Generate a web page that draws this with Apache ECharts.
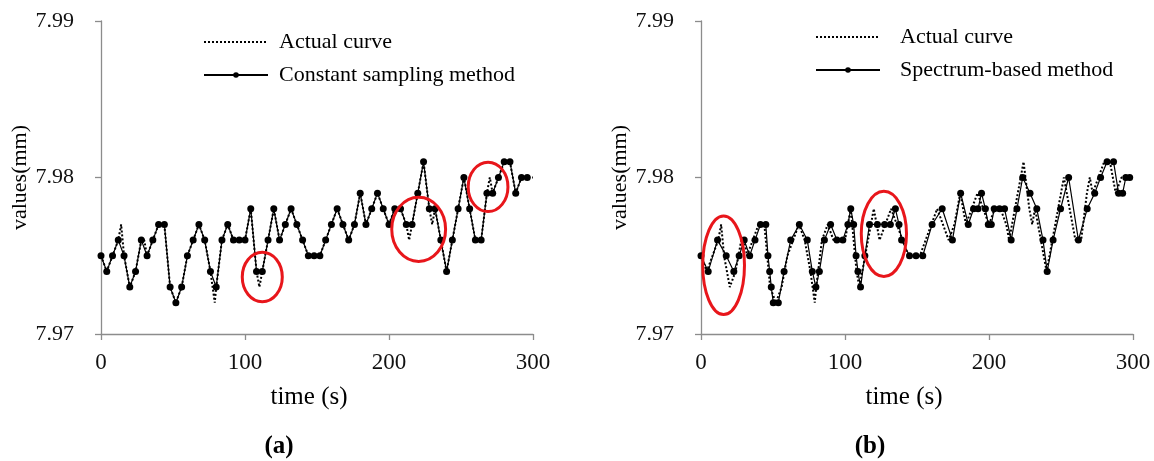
<!DOCTYPE html>
<html>
<head>
<meta charset="utf-8">
<script src="https://cdn.jsdelivr.net/npm/echarts@6/dist/echarts.min.js"></script>
<style>
html,body{margin:0;padding:0;background:#fff;}
#c{width:1154px;height:461px;}
</style>
</head>
<body>
<div id="c"></div>
<script>
// ---- Data ----
const yTicks = [7.97, 7.98, 7.99];
const xTicks = [0, 100, 200, 300];

// Actual curve (shared by both panels)
const actualTime = [0,4,8,12,14,16,20,24,28,30,32,36,40,44,48,52,56,60,64,68,72,76,79,80,84,88,92,96,100,104,108,110,112,116,120,124,128,132,136,140,144,148,152,156,160,164,168,172,176,180,184,188,192,196,200,204,208,212,214,216,220,224,228,230,232,236,240,244,248,252,256,260,264,268,270,272,276,280,284,288,292,296,300];
const actualVal = [7.975,7.974,7.975,7.976,7.977,7.975,7.973,7.974,7.976,7.976,7.975,7.976,7.977,7.977,7.973,7.972,7.973,7.975,7.976,7.977,7.976,7.974,7.972,7.973,7.976,7.977,7.976,7.976,7.976,7.978,7.974,7.973,7.974,7.976,7.978,7.976,7.977,7.978,7.977,7.976,7.975,7.975,7.975,7.976,7.977,7.978,7.977,7.976,7.977,7.979,7.977,7.978,7.979,7.978,7.977,7.978,7.978,7.977,7.976,7.977,7.979,7.981,7.978,7.977,7.978,7.976,7.974,7.976,7.978,7.980,7.978,7.976,7.976,7.979,7.980,7.979,7.980,7.981,7.981,7.979,7.980,7.980,7.980];

// Panel (a): constant sampling method
const constTime = [0,4,8,12,16,20,24,28,32,36,40,44,48,52,56,60,64,68,72,76,80,84,88,92,96,100,104,108,112,116,120,124,128,132,136,140,144,148,152,156,160,164,168,172,176,180,184,188,192,196,200,204,208,212,216,220,224,228,232,236,240,244,248,252,256,260,264,268,272,276,280,284,288,292,296];
const constVal = [7.975,7.974,7.975,7.976,7.975,7.973,7.974,7.976,7.975,7.976,
                  7.977,7.977,7.973,7.972,7.973,7.975,7.976,7.977,7.976,7.974,
                  7.973,7.976,7.977,7.976,7.976,7.976,7.978,7.974,7.974,7.976,
                  7.978,7.976,7.977,7.978,7.977,7.976,7.975,7.975,7.975,7.976,
                  7.977,7.978,7.977,7.976,7.977,7.979,7.977,7.978,7.979,7.978,
                  7.977,7.978,7.978,7.977,7.977,7.979,7.981,7.978,7.978,7.976,
                  7.974,7.976,7.978,7.980,7.978,7.976,7.976,7.979,7.979,7.980,
                  7.981,7.981,7.979,7.980,7.980];

// Panel (b): spectrum-based method
const specTime = [0,5,11.5,17.5,22.8,26.5,30,33.8,37.5,41.3,45,46.5,47.7,48.8,50.2,53.7,57.7,62.3,68.3,73.8,77.3,79.8,82.2,85.7,90,94.4,98.5,102,104,106,107.7,109,110.8,113.8,117,122.5,127.5,131.5,135,137.5,139.3,144.8,149.3,154,160.5,167.5,174.6,180.3,185.6,189.3,192.4,194.8,197.5,199.5,201.6,203.6,207.3,210.8,215.4,219.4,223.4,228.5,233.2,237.5,240.4,244.5,249.7,255.3,262.1,268.2,273.4,277.5,282,286.5,290,292.8,295,297.7];
const specVal = [7.975,7.974,7.976,7.975,7.974,7.975,7.976,7.975,7.976,7.977,
                 7.977,7.975,7.974,7.973,7.972,7.972,7.974,7.976,7.977,7.976,
                 7.974,7.973,7.974,7.976,7.977,7.976,7.976,7.977,7.978,7.977,
                 7.975,7.974,7.973,7.975,7.977,7.977,7.977,7.977,7.978,7.977,
                 7.976,7.975,7.975,7.975,7.977,7.978,7.976,7.979,7.977,7.978,
                 7.978,7.979,7.978,7.977,7.977,7.978,7.978,7.978,7.976,7.978,
                 7.980,7.979,7.978,7.976,7.974,7.976,7.978,7.980,7.976,7.978,
                 7.979,7.980,7.981,7.981,7.979,7.979,7.980,7.980];

// Red highlight ellipses (data units): panel, centre time, centre value, half-width (s), half-height (mm)
const ellipsePanel = [0, 0, 0, 1, 1];
const ellipseT  = [112, 220.6, 268.8, 15.7, 127];
const ellipseV  = [7.97364, 7.97669, 7.9794, 7.97439, 7.9764];
const ellipseRT = [13.9, 18.7, 13.8, 14.5, 15.7];
const ellipseRV = [0.00158, 0.00205, 0.00158, 0.00315, 0.00272];

const captions = ['a', 'b'];
const methodNames = ['Constant sampling method', 'Spectrum-based method'];

// ---- Chart ----
const FONT = "'Liberation Serif', 'Times New Roman', serif";
const pairs = (ts, vs) => ts.map((t, i) => [t, vs[i]]);
const chart = echarts.init(document.getElementById('c'), null, {renderer: 'canvas'});

const gridLefts = [101, 701];
const grids = gridLefts.map(l => ({left: l, top: 21, width: 432, height: 313, containLabel: false}));

const xAxes = [0, 1].map(i => ({
  type: 'value', gridIndex: i, min: xTicks[0], max: xTicks[xTicks.length - 1], interval: 100,
  name: 'time (s)', nameLocation: 'middle', nameGap: 51,
  nameTextStyle: {fontFamily: FONT, fontSize: 25, color: '#000', padding: [0, i === 0 ? 16 : 26, 0, 0]},
  axisLine: {show: true, lineStyle: {color: '#8c8c8c', width: 1.3}},
  axisTick: {show: true, inside: false, length: 6, lineStyle: {color: '#8c8c8c', width: 1.3}},
  axisLabel: {fontFamily: FONT, fontSize: 23, color: '#111', margin: 17},
  splitLine: {show: false}
}));

const yAxes = [0, 1].map(i => ({
  type: 'value', gridIndex: i, min: yTicks[0], max: yTicks[yTicks.length - 1], interval: 0.01,
  name: 'values(mm)', nameLocation: 'middle', nameGap: 64, nameRotate: 90,
  nameTextStyle: {fontFamily: FONT, fontSize: 22, color: '#000'},
  axisLine: {show: true, lineStyle: {color: '#8c8c8c', width: 1.3}},
  axisTick: {show: true, inside: false, length: 6, lineStyle: {color: '#8c8c8c', width: 1.3}},
  axisLabel: {fontFamily: FONT, fontSize: 22, color: '#111', margin: 27,
              formatter: v => v.toFixed(2)},
  splitLine: {show: false}
}));

const actualSeries = i => ({
  name: 'Actual curve', type: 'line', xAxisIndex: i, yAxisIndex: i,
  data: pairs(actualTime, actualVal), symbol: 'none', showSymbol: false,
  lineStyle: {color: '#000', width: 2, type: [2, 2]}, itemStyle: {color: '#000'},
  z: 3, silent: true
});
const methodSeries = (i, ts, vs) => ({
  name: methodNames[i], type: 'line', xAxisIndex: i, yAxisIndex: i,
  data: pairs(ts, vs), symbol: 'circle', symbolSize: 7, showSymbol: true,
  lineStyle: {color: '#000', width: 1.2}, itemStyle: {color: '#000'},
  z: 2, silent: true
});

const legends = [
  {left: 203, top: 31, pad: 6},
  {left: 815, top: 26, pad: 15}
].map((p, i) => ({
  left: p.left, top: p.top, orient: 'vertical', itemWidth: 64, itemHeight: 7, itemGap: 11,
  padding: 0,
  data: [{name: 'Actual curve', itemStyle: {opacity: 0}}, {name: methodNames[i]}],
  textStyle: {fontFamily: FONT, fontSize: 22, color: '#000', padding: [0, 0, 0, p.pad]},
  selectedMode: false
}));

const titles = [279, 870].map((x, i) => ({
  text: '{p|(}{b|' + captions[i] + '}{p|)}',
  left: x, top: 434, textAlign: 'center', padding: 0,
  textStyle: {rich: {
    p: {fontFamily: FONT, fontSize: 25, color: '#000'},
    b: {fontFamily: FONT, fontSize: 25, fontWeight: 'bold', color: '#000'}
  }}
}));

chart.setOption({
  animation: false,
  backgroundColor: '#fff',
  title: titles,
  grid: grids,
  xAxis: xAxes,
  yAxis: yAxes,
  legend: legends,
  series: [
    actualSeries(0),
    methodSeries(0, constTime, constVal),
    actualSeries(1),
    methodSeries(1, specTime, specVal)
  ]
});

// Ellipse annotations placed through the axes' scales
const graphics = ellipsePanel.map((g, k) => {
  const c = chart.convertToPixel({gridIndex: g}, [ellipseT[k], ellipseV[k]]);
  const e = chart.convertToPixel({gridIndex: g}, [ellipseT[k] + ellipseRT[k], ellipseV[k] + ellipseRV[k]]);
  return {
    type: 'ellipse', silent: true, z: 10,
    shape: {cx: c[0], cy: c[1], rx: Math.abs(e[0] - c[0]), ry: Math.abs(c[1] - e[1])},
    style: {fill: 'none', stroke: '#e8161b', lineWidth: 3}
  };
});
chart.setOption({graphic: graphics});
</script>
</body>
</html>
